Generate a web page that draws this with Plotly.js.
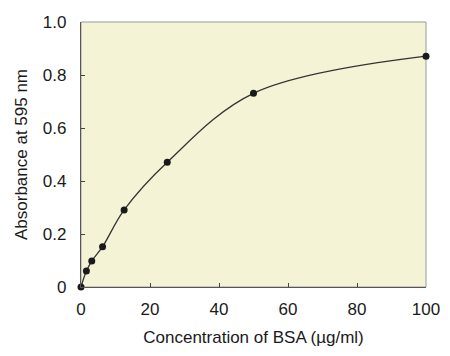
<!DOCTYPE html>
<html>
<head>
<meta charset="utf-8">
<script src="https://cdn.plot.ly/plotly-3.0.1.min.js"></script>
<style>html,body{margin:0;padding:0;background:#fff;}#chart{width:450px;height:356px;}</style>
</head>
<body>
<div id="chart"></div>
<script>
const concentration = [0, 1.5625, 3.125, 6.25, 12.5, 25, 50, 100];
const absorbance = [0, 0.06, 0.098, 0.152, 0.291, 0.471, 0.731, 0.871];
const xTicks = [0, 20, 40, 60, 80, 100];
const yTicks = [0, 0.2, 0.4, 0.6, 0.8, 1.0];
const yTickText = ['0', '0.2', '0.4', '0.6', '0.8', '1.0'];

const font = {family: 'Liberation Sans, Arial, sans-serif', size: 17, color: '#1a1a1a'};

Plotly.newPlot('chart', [{
  x: concentration, y: absorbance,
  type: 'scatter', mode: 'lines+markers',
  line: {shape: 'spline', smoothing: 1, color: '#333333', width: 1.3},
  marker: {color: '#1a1a1a', size: 7},
  cliponaxis: false
}], {
  width: 450, height: 356,
  margin: {l: 81, r: 24, t: 22, b: 69},
  paper_bgcolor: '#ffffff',
  plot_bgcolor: '#f5f3d6',
  font: font,
  showlegend: false,
  shapes: [{type: 'rect', xref: 'paper', yref: 'paper', x0: 0, x1: 1, y0: 0, y1: 1,
    line: {color: '#9a9a9a', width: 1}, layer: 'below'}],
  xaxis: {
    range: [0, 100], tickvals: xTicks, ticks: 'inside', ticklen: 4, tickcolor: '#444',
    showgrid: false, zeroline: false, showline: true, linecolor: '#555', linewidth: 1.2,
    tickfont: font, ticklabelstandoff: 6,
    title: {text: 'Concentration of BSA (µg/ml)', font: font, standoff: 13}
  },
  yaxis: {
    range: [0, 1.0], tickvals: yTicks, ticktext: yTickText, ticks: 'inside', ticklen: 4, tickcolor: '#444',
    showgrid: false, zeroline: false, showline: true, linecolor: '#555', linewidth: 1.2,
    tickfont: font, ticklabelstandoff: 10,
    title: {text: 'Absorbance at 595 nm', font: font, standoff: 10}
  }
}, {displayModeBar: false, staticPlot: true});
</script>
</body>
</html>
